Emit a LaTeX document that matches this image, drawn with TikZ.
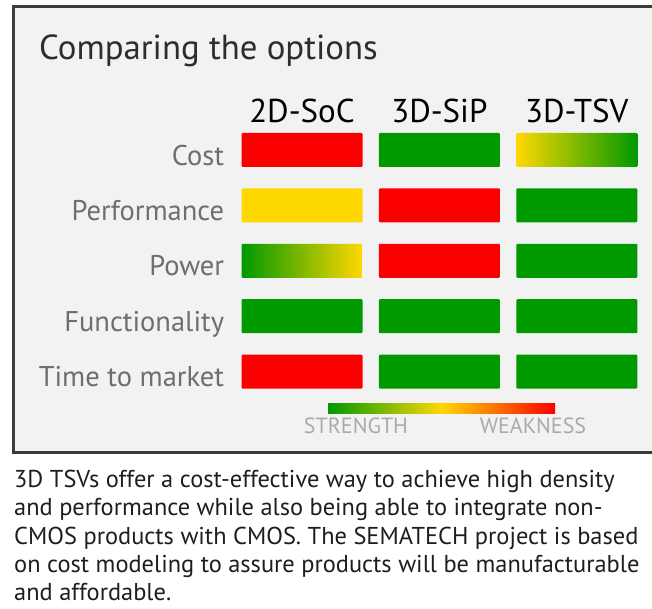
\documentclass[tikz,border=0pt]{standalone}
\usepackage{fontspec}
\setmainfont{PT Sans}
\usetikzlibrary{positioning}

\definecolor{barred}{RGB}{250,0,0}
\definecolor{bargreen}{RGB}{0,153,0}
\definecolor{baryellow}{RGB}{255,216,0}
\definecolor{framegray}{RGB}{60,60,60}
\definecolor{panelgray}{RGB}{242,242,242}
\definecolor{labelgray}{RGB}{110,110,110}
\definecolor{legendgray}{RGB}{170,170,170}
\definecolor{titlegray}{RGB}{45,45,45}
\definecolor{captiongray}{RGB}{30,30,30}

\begin{document}
\begin{tikzpicture}[x=1pt, y=-1pt,
    bar/.style={minimum width=121pt, minimum height=34pt, inner sep=0pt, rounded corners=1pt},
    rowlabel/.style={font=\fontsize{28.5}{32}\selectfont, text=labelgray, anchor=base east, inner sep=0pt},
    colhead/.style={font=\fontsize{33}{38}\selectfont, text=black, anchor=base, inner sep=0pt},
    legendtext/.style={font=\fontsize{22}{26}\selectfont, text=legendgray, anchor=base, inner sep=0pt}]

    \useasboundingbox (0,0) rectangle (652,609);
    \clip (0,0) rectangle (652,609);

    % Frame
    \draw[line width=3pt, framegray, fill=panelgray] (13,7) rectangle (680,452);

    % Title
    \node[anchor=base west, inner sep=0pt, font=\fontsize{34.8}{40}\selectfont, text=titlegray] (title) at (39,60) {Comparing the options};

    % Cost
    \node[bar, fill=barred] (cost2d) at (302,150) {};
    \node[bar, fill=bargreen, right=16pt of cost2d] (costsip) {};
    \node[bar, left color=baryellow, right color=bargreen, right=16pt of costsip] (costtsv) {};
    \node[rowlabel] (lcost) at ([xshift=-17pt, yshift=2pt]cost2d.south west) {Cost};

    % Performance
    \node[bar, fill=baryellow, below=21pt of cost2d] (perf2d) {};
    \node[bar, fill=barred, right=16pt of perf2d] (perfsip) {};
    \node[bar, fill=bargreen, right=16pt of perfsip] (perftsv) {};
    \node[rowlabel] (lperf) at ([xshift=-17pt, yshift=2pt]perf2d.south west) {Performance};

    % Power
    \node[bar, left color=bargreen, right color=baryellow, below=21pt of perf2d] (pow2d) {};
    \node[bar, fill=barred, right=16pt of pow2d] (powsip) {};
    \node[bar, fill=bargreen, right=16pt of powsip] (powtsv) {};
    \node[rowlabel] (lpow) at ([xshift=-17pt, yshift=2pt]pow2d.south west) {Power};

    % Functionality
    \node[bar, fill=bargreen, below=21pt of pow2d] (func2d) {};
    \node[bar, fill=bargreen, right=16pt of func2d] (funcsip) {};
    \node[bar, fill=bargreen, right=16pt of funcsip] (functsv) {};
    \node[rowlabel] (lfunc) at ([xshift=-17pt, yshift=2pt]func2d.south west) {Functionality};

    % Time to market
    \node[bar, fill=barred, below=21pt of func2d] (time2d) {};
    \node[bar, fill=bargreen, right=16pt of time2d] (timesip) {};
    \node[bar, fill=bargreen, right=16pt of timesip] (timetsv) {};
    \node[rowlabel] (ltime) at ([xshift=-17pt, yshift=2pt]time2d.south west) {Time to market};

    % Column heads
    \node[colhead] (hsoc) at ([yshift=10pt]cost2d.north) {2D-SoC};
    \node[colhead] (hsip) at ([yshift=10pt]costsip.north) {3D-SiP};
    \node[colhead] (htsv) at ([yshift=10pt]costtsv.north) {3D-TSV};

    % Legend
    \node[minimum width=227pt, minimum height=10pt, inner sep=0pt, left color=bargreen, right color=barred, middle color=baryellow] (legend) at (441.5,408) {};
    \node[legendtext] (lstrength) at (356,433) {STRENGTH};
    \node[legendtext] (lweakness) at (533,433) {WEAKNESS};

    % Caption
    \node[anchor=north west, align=left, inner sep=0pt, font=\fontsize{24.4}{28.3}\selectfont, text=captiongray] (caption) at (14,470)
        {3D TSVs offer a cost-effective way to achieve high density\\
         and performance while also being able to integrate non-\\
         CMOS products with CMOS. The SEMATECH project is based\\
         on cost modeling to assure products will be manufacturable\\
         and affordable.};

\end{tikzpicture}
\end{document}
